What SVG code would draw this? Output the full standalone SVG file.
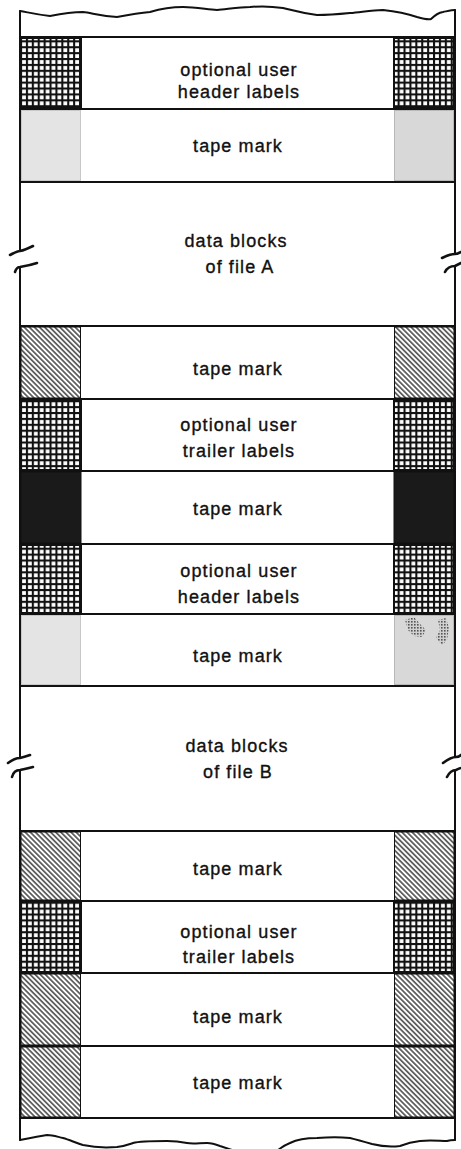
<svg xmlns="http://www.w3.org/2000/svg" width="461" height="1149" viewBox="0 0 461 1149">
<style>
.ol{fill:none;stroke:#111;stroke-width:2;stroke-linecap:round;stroke-linejoin:round}
.br{fill:none;stroke:#111;stroke-width:2.6;stroke-linecap:round;stroke-linejoin:round}
.hl{stroke:#111;stroke-width:2}
.t{font-family:"Liberation Sans",Arial,sans-serif;font-size:18px;letter-spacing:1.1px;fill:#111;stroke:#111;stroke-width:0.35;text-anchor:middle}
.grid{fill:url(#grid);stroke:#111;stroke-width:2}
.hatch{fill:url(#hatch);stroke:#111;stroke-width:1}
.gray1{fill:#e4e4e4;stroke:#c8c8c8;stroke-width:1}
.gray2{fill:#d8d8d8;stroke:#b8b8b8;stroke-width:1}
.blk{fill:#1a1a1a;stroke:#111;stroke-width:1}
.spk{fill:url(#speck)}
</style>
<defs>
<pattern id="grid" x="21" y="0" width="5.9" height="5.9" patternUnits="userSpaceOnUse">
<rect width="5.9" height="5.9" fill="#111"/>
<rect x="1.1" y="1.1" width="3.8" height="3.8" fill="#fff"/>
</pattern>
<pattern id="hatch" width="3.6" height="10" patternUnits="userSpaceOnUse" patternTransform="rotate(-45)">
<rect width="3.6" height="10" fill="#fff"/>
<line x1="1.8" y1="0" x2="1.8" y2="10" stroke="#111" stroke-width="1.2"/>
</pattern>
<pattern id="speck" width="3" height="3" patternUnits="userSpaceOnUse">
<rect width="3" height="3" fill="#d0d0d0"/>
<rect width="1.6" height="1.6" fill="#555"/>
</pattern>
</defs>

<g id="outline">
<path class="ol" d="M20,11 C27,12 33,14 50,16 C60,14 70,12 83,12 C92,13 100,16 117,17 C128,15 140,13 150,12 C160,9 170,7 183,7 C195,7 205,9 217,10 C228,9 240,7 250,7 C260,6 270,6 283,8 C292,10 300,13 317,15 C330,15 340,14 350,13 C362,12 372,10 383,10 C392,11 405,13 417,17 C424,19 428,20 431,19 C434,16 437,13 443,12 C448,11 452,10 455,10"/>
<path class="ol" d="M20,11 L20,251"/>
<path class="br" d="M10,255 C14,253 17,251 20,251 C25,250 29,248 33,246"/>
<path class="br" d="M15,272 C16,269 18,267 20,267 C26,266 31,265 37,263"/>
<path class="ol" d="M20,267 L20,758"/>
<path class="br" d="M8,763 C12,760 16,758 20,758 C24,757 27,756 30,755"/>
<path class="br" d="M12,777 C13,773 16,770 20,770 C25,769 29,768 33,767"/>
<path class="ol" d="M20,770 L20,1140"/>
<path class="ol" d="M455,10 L455,254"/>
<path class="br" d="M442,258 C446,256 450,254 455,254 C457,254 459,253 461,252"/>
<path class="br" d="M445,272 C447,268 450,266 455,266 C457,265 459,264 461,263"/>
<path class="ol" d="M455,266 L455,757"/>
<path class="br" d="M443,763 C447,760 452,757 456,757 C458,757 460,756 461,755"/>
<path class="br" d="M447,777 C449,773 452,770 456,770 C458,769 460,768 461,768"/>
<path class="ol" d="M455,770 L455,1140"/>
<path class="ol" d="M20,1140 C30,1138 40,1136 47,1135 C53,1135 58,1137 63,1138 C70,1140 76,1143 83,1145 C92,1147 105,1148 117,1147 C125,1146 130,1144 133,1143 C140,1141 150,1141 167,1141 C175,1141 182,1142 187,1143 C192,1144 200,1143 207,1143 C212,1143 215,1144 220,1146 C226,1148 232,1150 238,1152"/>
<path class="ol" d="M276,1152 C280,1148 285,1145 290,1143 C296,1140 305,1138 317,1138 C330,1137 340,1137 350,1138 C358,1140 365,1142 372,1144 C380,1146 392,1147 400,1146 C405,1144 410,1142 420,1141 C430,1140 440,1141 447,1141 C450,1140 453,1140 455,1140"/>
<line class="hl" x1="20" y1="37" x2="455" y2="37"/>
<line class="hl" x1="20" y1="109" x2="455" y2="109"/>
<line class="hl" x1="20" y1="182" x2="455" y2="182"/>
<line class="hl" x1="20" y1="326" x2="455" y2="326"/>
<line class="hl" x1="20" y1="399" x2="455" y2="399"/>
<line class="hl" x1="20" y1="471" x2="455" y2="471"/>
<line class="hl" x1="20" y1="544" x2="455" y2="544"/>
<line class="hl" x1="20" y1="614" x2="455" y2="614"/>
<line class="hl" x1="20" y1="686" x2="455" y2="686"/>
<line class="hl" x1="20" y1="831" x2="455" y2="831"/>
<line class="hl" x1="20" y1="901" x2="455" y2="901"/>
<line class="hl" x1="20" y1="973" x2="455" y2="973"/>
<line class="hl" x1="20" y1="1046" x2="455" y2="1046"/>
<line class="hl" x1="20" y1="1118" x2="455" y2="1118"/>
</g>

<g id="row1">
<rect class="grid" x="21" y="38" width="60" height="70"/>
<rect class="grid" x="394" y="38" width="60" height="70"/>
<text class="t" x="239" y="76">optional user</text>
<text class="t" x="239" y="97.5">header labels</text>
</g>
<g id="row2">
<rect class="gray1" x="21.5" y="110.5" width="59" height="70"/>
<rect class="gray2" x="394.5" y="110.5" width="59" height="70"/>
<text class="t" x="238" y="152">tape mark</text>
</g>
<g id="row3">
<text class="t" x="236" y="246.7">data blocks</text>
<text class="t" x="240" y="273.3">of file A</text>
</g>
<g id="row4">
<rect class="hatch" x="21" y="327" width="59.5" height="71"/>
<rect class="hatch" x="394.5" y="327" width="59.5" height="71"/>
<text class="t" x="238" y="375">tape mark</text>
</g>
<g id="row5">
<rect class="grid" x="21" y="400" width="60" height="70"/>
<rect class="grid" x="394" y="400" width="60" height="70"/>
<text class="t" x="239" y="430.7">optional user</text>
<text class="t" x="239" y="457">trailer labels</text>
</g>
<g id="row6">
<rect class="blk" x="21" y="472" width="60" height="71"/>
<rect class="blk" x="394" y="472" width="60" height="71"/>
<text class="t" x="238" y="515">tape mark</text>
</g>
<g id="row7">
<rect class="grid" x="21" y="545" width="60" height="68"/>
<rect class="grid" x="394" y="545" width="60" height="68"/>
<text class="t" x="239" y="576.7">optional user</text>
<text class="t" x="239" y="603">header labels</text>
</g>
<g id="row8">
<rect class="gray1" x="21.5" y="615.5" width="59" height="69"/>
<rect class="gray2" x="394.5" y="615.5" width="59" height="69"/>
<path class="spk" d="M405,620 L414,617 L420,624 L426,630 L422,637 L414,636 L408,630 Z"/>
<path class="spk" d="M438,620 L446,618 L449,628 L447,640 L442,645 L436,638 L440,630 Z"/>
<text class="t" x="238" y="661.7">tape mark</text>
</g>
<g id="row9">
<text class="t" x="237" y="751.7">data blocks</text>
<text class="t" x="238" y="778.3">of file B</text>
</g>
<g id="row10">
<rect class="hatch" x="21" y="832" width="59.5" height="68"/>
<rect class="hatch" x="394.5" y="832" width="59.5" height="68"/>
<text class="t" x="238" y="875">tape mark</text>
</g>
<g id="row11">
<rect class="grid" x="21" y="902" width="60" height="70"/>
<rect class="grid" x="394" y="902" width="60" height="70"/>
<text class="t" x="239" y="938.3">optional user</text>
<text class="t" x="239" y="963.3">trailer labels</text>
</g>
<g id="row12">
<rect class="hatch" x="21" y="974" width="59.5" height="71"/>
<rect class="hatch" x="394.5" y="974" width="59.5" height="71"/>
<text class="t" x="238" y="1022.7">tape mark</text>
</g>
<g id="row13">
<rect class="hatch" x="21" y="1047" width="59.5" height="70"/>
<rect class="hatch" x="394.5" y="1047" width="59.5" height="70"/>
<text class="t" x="238" y="1089.3">tape mark</text>
</g>
</svg>
